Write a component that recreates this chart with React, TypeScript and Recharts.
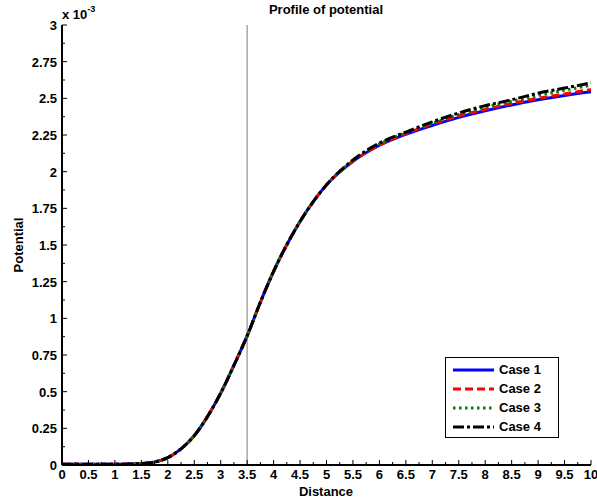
import { LineChart, Line, XAxis, YAxis, ReferenceLine } from 'recharts'

const distance = [0, 0.5, 1, 1.5, 1.75, 2, 2.25, 2.5, 2.75, 3, 3.25, 3.5, 3.75, 4, 4.5, 5, 5.5, 6, 6.5, 7, 7.5, 8, 8.5, 9, 9.5, 10]
const case1 = [0.005, 0.005, 0.005, 0.01, 0.02, 0.05, 0.11, 0.2, 0.33, 0.49, 0.68, 0.88, 1.11, 1.32, 1.66, 1.91, 2.07, 2.18, 2.255, 2.315, 2.37, 2.415, 2.455, 2.49, 2.52, 2.545]
const case2 = [0.005, 0.005, 0.005, 0.01, 0.02, 0.05, 0.11, 0.2, 0.33, 0.49, 0.68, 0.88, 1.11, 1.32, 1.66, 1.91, 2.07, 2.18, 2.26, 2.325, 2.38, 2.425, 2.465, 2.5, 2.53, 2.56]
const case3 = [0.005, 0.005, 0.005, 0.01, 0.02, 0.05, 0.11, 0.2, 0.33, 0.49, 0.68, 0.88, 1.11, 1.32, 1.66, 1.91, 2.075, 2.19, 2.265, 2.33, 2.39, 2.44, 2.48, 2.52, 2.555, 2.59]
const case4 = [0.005, 0.005, 0.005, 0.01, 0.02, 0.05, 0.11, 0.2, 0.33, 0.49, 0.68, 0.88, 1.11, 1.32, 1.66, 1.91, 2.08, 2.195, 2.27, 2.34, 2.4, 2.45, 2.49, 2.535, 2.57, 2.605]

const xTicks = Array.from({ length: 41 }, (_, i) => i * 0.25)
const yTicks = Array.from({ length: 25 }, (_, i) => i * 0.125)

const series = [
  { key: 'case1', name: 'Case 1', color: '#0000ff', dash: undefined },
  { key: 'case2', name: 'Case 2', color: '#ff0000', dash: '8 4' },
  { key: 'case3', name: 'Case 3', color: '#008000', dash: '2.5 3.5' },
  { key: 'case4', name: 'Case 4', color: '#000000', dash: '11 3 3 3' },
]

const data = distance.map((d, i) => ({
  distance: d,
  case1: case1[i],
  case2: case2[i],
  case3: case3[i],
  case4: case4[i],
}))

const FONT = '"Liberation Sans", Arial, sans-serif'
const isMajor = (v: number, step: number) => Math.abs(v / step - Math.round(v / step)) < 1e-6

// ticks point inward, labels sit outside
const BottomTick = (props: any) => {
  const { x, y, payload } = props
  const major = isMajor(payload.value, 0.5)
  return (
    <g>
      <line x1={x} y1={y} x2={x} y2={y - (major ? 5 : 3)} stroke="#000" />
      {major && (
        <text x={x} y={y + 14} textAnchor="middle" fontSize={13} fontWeight="bold" fontFamily={FONT} fill="#000">
          {String(payload.value)}
        </text>
      )}
    </g>
  )
}

const TopTick = (props: any) => {
  const { x, y, payload } = props
  const major = isMajor(payload.value, 0.5)
  return <line x1={x} y1={y} x2={x} y2={y + (major ? 5 : 3)} stroke="#000" />
}

const LeftTick = (props: any) => {
  const { x, y, payload } = props
  const major = isMajor(payload.value, 0.25)
  return (
    <g>
      <line x1={x} y1={y} x2={x + (major ? 5 : 3)} y2={y} stroke="#000" />
      {major && (
        <text x={x - 5} y={y + 5} textAnchor="end" fontSize={13} fontWeight="bold" fontFamily={FONT} fill="#000">
          {String(payload.value)}
        </text>
      )}
    </g>
  )
}

const RightTick = (props: any) => {
  const { x, y, payload } = props
  const major = isMajor(payload.value, 0.25)
  return <line x1={x} y1={y} x2={x - (major ? 5 : 3)} y2={y} stroke="#000" />
}

const LegendBox = () => (
  <div
    style={{
      position: 'absolute', left: 445, top: 357, width: 112, height: 77, paddingTop: 2,
      border: '1px solid #000', background: '#fff',
    }}
  >
    {series.map((s) => (
      <div key={s.key} style={{ display: 'flex', alignItems: 'center', height: 19 }}>
        <svg width={50} height={19}>
          <line x1={7} y1={10} x2={48} y2={10} stroke={s.color} strokeWidth={3} strokeDasharray={s.dash} />
        </svg>
        <span style={{ fontFamily: FONT, fontWeight: 'bold', fontSize: 13, marginLeft: 3 }}>{s.name}</span>
      </div>
    ))}
  </div>
)

export default function App() {
  return (
    <div style={{ position: 'absolute', left: 0, top: 0, width: 597, height: 501, background: '#fff' }}>
      <div style={{ position: 'absolute', left: 0, top: 2, width: 652, textAlign: 'center', fontFamily: FONT, fontWeight: 'bold', fontSize: 13 }}>
        Profile of potential
      </div>
      <div style={{ position: 'absolute', left: 62, top: 6, fontFamily: FONT, fontWeight: 'bold', fontSize: 13 }}>
        x 10<sup style={{ fontSize: 9, position: 'relative', top: -2 }}>-3</sup>
      </div>
      <div style={{ position: 'absolute', left: 0, top: 484, width: 652, textAlign: 'center', fontFamily: FONT, fontWeight: 'bold', fontSize: 13 }}>
        Distance
      </div>
      <div
        style={{
          position: 'absolute', left: 18, top: 245, transform: 'translate(-50%, -50%) rotate(-90deg)',
          fontFamily: FONT, fontWeight: 'bold', fontSize: 13, whiteSpace: 'nowrap',
        }}
      >
        Potential
      </div>
      <LineChart width={597} height={501} data={data} margin={{ top: 25, right: 6, bottom: 0, left: 0 }}>
        <XAxis
          dataKey="distance" type="number" domain={[0, 10]} ticks={xTicks} interval={0}
          height={36} tickSize={0} tickMargin={0} tickLine={false} tick={<BottomTick />}
          axisLine={{ stroke: '#000', strokeWidth: 2 }}
        />
        <XAxis
          xAxisId="top" orientation="top" dataKey="distance" type="number" domain={[0, 10]} ticks={xTicks} interval={0}
          height={0} tickSize={0} tickMargin={0} tickLine={false} tick={<TopTick />}
          axisLine={{ stroke: '#000', strokeWidth: 2 }}
        />
        <YAxis
          type="number" domain={[0, 3]} ticks={yTicks} interval={0} width={62}
          tickSize={0} tickMargin={0} tickLine={false} tick={<LeftTick />}
          axisLine={{ stroke: '#000', strokeWidth: 2 }}
        />
        <YAxis
          yAxisId="right" orientation="right" type="number" domain={[0, 3]} ticks={yTicks} interval={0} width={0}
          tickSize={0} tickMargin={0} tickLine={false} tick={<RightTick />}
          axisLine={{ stroke: '#000', strokeWidth: 2 }}
        />
        <ReferenceLine x={3.5} stroke="#a6a6a6" strokeWidth={1.5} />
        {series.map((s) => (
          <Line
            key={s.key} type="monotone" dataKey={s.key} name={s.name} stroke={s.color} strokeWidth={3}
            strokeDasharray={s.dash} dot={false} activeDot={false} isAnimationActive={false}
          />
        ))}
      </LineChart>
      <LegendBox />
    </div>
  )
}
